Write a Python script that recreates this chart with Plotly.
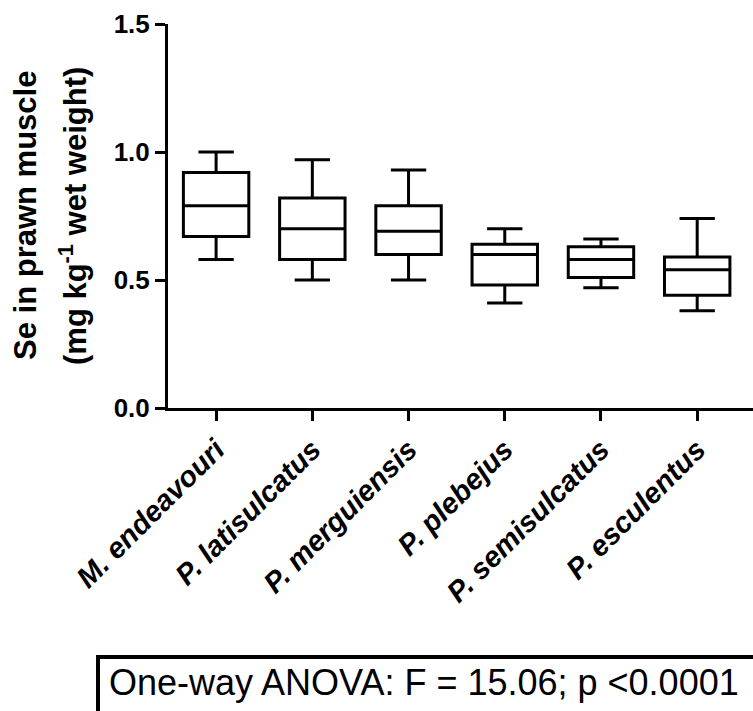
import plotly.graph_objects as go

species = ["M. endeavouri", "P. latisulcatus", "P. merguiensis",
           "P. plebejus", "P. semisulcatus", "P. esculentus"]
lower_whisker = [0.58, 0.50, 0.50, 0.41, 0.47, 0.38]
q1_values = [0.67, 0.58, 0.60, 0.48, 0.51, 0.44]
median_values = [0.79, 0.70, 0.69, 0.60, 0.58, 0.54]
q3_values = [0.92, 0.82, 0.79, 0.64, 0.63, 0.59]
upper_whisker = [1.00, 0.97, 0.93, 0.70, 0.66, 0.74]
y_ticks = [0.0, 0.5, 1.0, 1.5]
y_tick_labels = ["0.0", "0.5", "1.0", "1.5"]
y_title_lines = ["Se in prawn muscle", "(mg kg<sup>-1</sup> wet weight)"]
stats_text = "One-way ANOVA: F = 15.06; p <0.0001"

FONT = "Liberation Sans, Arial, Helvetica, sans-serif"
W, H = 753, 711
L, R, T, B = 168, 0, 24, 303
pw = W - L - R
ph = H - T - B

fig = go.Figure()
fig.add_trace(go.Box(
    x=species,
    q1=q1_values,
    median=median_values,
    q3=q3_values,
    lowerfence=lower_whisker,
    upperfence=upper_whisker,
    boxpoints=False,
    fillcolor="white",
    line=dict(color="black", width=3),
    whiskerwidth=0.54,
    showlegend=False,
    hoverinfo="skip",
))

fig.update_layout(
    width=W, height=H,
    margin=dict(l=L, r=R, t=T, b=B, pad=0),
    paper_bgcolor="white", plot_bgcolor="white",
    boxmode="overlay", boxgap=0.32, boxgroupgap=0,
    font=dict(family=FONT, color="black"),
    xaxis=dict(
        type="category",
        range=[-0.5, 5.58],
        showline=True, linecolor="black", linewidth=3,
        ticks="outside", ticklen=10, tickwidth=3, tickcolor="black",
        tickangle=-45,
        tickfont=dict(family=FONT, size=29, color="black", weight="bold", style="italic"),
        showgrid=False, zeroline=False,
    ),
    yaxis=dict(
        range=[0, 1.5],
        tickvals=y_ticks, ticktext=y_tick_labels,
        showline=True, linecolor="black", linewidth=3,
        ticks="outside", ticklen=10, tickwidth=3, tickcolor="black",
        tickfont=dict(family=FONT, size=26, color="black", weight="bold"),
        showgrid=False, zeroline=False,
    ),
)

# y-axis title, two lines
for line_text, xpix in zip(y_title_lines, [25, 73]):
    fig.add_annotation(
        text=line_text, textangle=-90,
        xref="paper", yref="paper",
        x=(xpix - L) / pw, y=0.5,
        xanchor="center", yanchor="middle",
        showarrow=False,
        font=dict(family=FONT, size=31, color="black", weight="bold"),
    )

# statistics box
box_top = 657
fig.add_shape(
    type="rect", xref="paper", yref="paper",
    x0=(98 - L) / pw, x1=(W + 20 - L) / pw,
    y0=(T + ph - (H + 20)) / ph, y1=(T + ph - box_top) / ph,
    line=dict(color="black", width=4), fillcolor="rgba(0,0,0,0)",
    layer="above",
)
fig.add_annotation(
    text=stats_text,
    xref="paper", yref="paper",
    x=(107 - L) / pw, y=(T + ph - 682) / ph,
    xanchor="left", yanchor="middle",
    showarrow=False,
    font=dict(family=FONT, size=36, color="black"),
)

fig.write_html("out.html")
